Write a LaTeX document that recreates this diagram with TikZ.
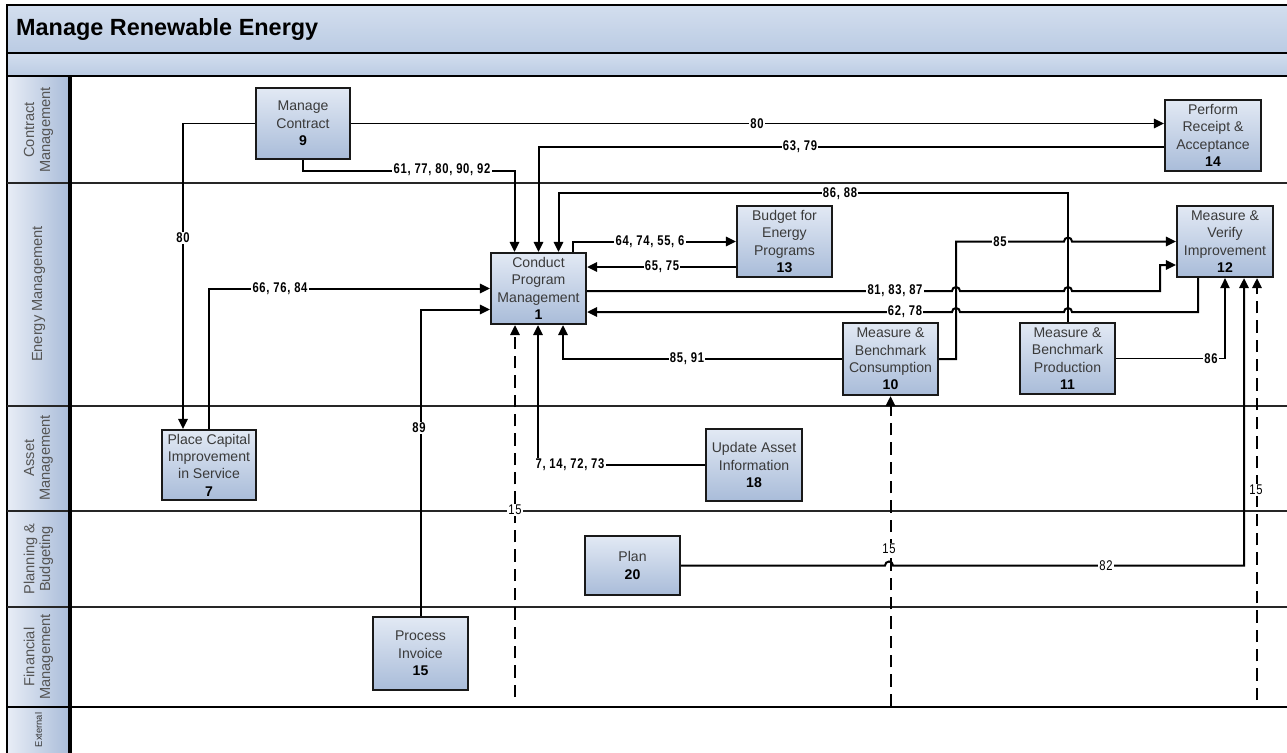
\documentclass[tikz,border=0pt]{standalone}
\usepackage{fontspec}
\setmainfont{Liberation Sans}
\newfontfamily\lblfont[FakeStretch=0.8,LetterSpace=5]{Liberation Sans}
\usetikzlibrary{calc,arrows.meta}
\definecolor{boxtop}{HTML}{E2E9F4}
\definecolor{boxbot}{HTML}{A9BCD9}
\definecolor{hdrL}{HTML}{E8EDF6}
\definecolor{hdrR}{HTML}{A9BCD9}
\definecolor{bandtop}{HTML}{D3DEEE}
\definecolor{bandbot}{HTML}{BACBE3}
\definecolor{txtgray}{HTML}{3A3A3A}
\definecolor{lanegray}{HTML}{555555}
\newcommand\pnum[1]{\textcolor{black}{\textbf{#1}}}
\begin{document}
\begin{tikzpicture}[x=0.03cm,y=-0.03cm,
 pbox/.style={draw=black!90, line width=1.9pt, top color=boxtop, bottom color=boxbot, align=center, inner sep=0pt, font=\fontsize{12}{14.8}\selectfont, text=txtgray},
 sz/.style 2 args={minimum width=#1*0.03cm, minimum height=#2*0.03cm},
 cline/.style={line width=1.7pt, -{Triangle[length=8.5pt,width=8pt]}},
 dline/.style={line width=1.7pt, dash pattern=on 10.5pt off 6pt, -{Triangle[length=8.5pt,width=8pt]}},
 lbl/.style={fill=white, inner sep=1pt, font=\lblfont\bfseries\fontsize{12}{12}\selectfont},
 lblr/.style={fill=white, inner sep=1pt, font=\lblfont\fontsize{12}{12}\selectfont},
 lanetxt/.style={rotate=90, align=center, text=lanegray, font=\fontsize{12.5}{13.5}\selectfont},
 lanehdr/.style={left color=hdrL, right color=hdrR},
 laneline/.style={line width=1.6pt, draw=black!85},
]
\useasboundingbox (0,0) rectangle (1287,752);
\clip (0,0) rectangle (1287,752);
% bands
\shade[top color=bandtop, bottom color=bandbot] (7,5) rectangle (1300,53);
\shade[top color=bandtop, bottom color=bandbot] (7,53) rectangle (1300,76);
% lane headers
\shade[lanehdr] (7,76) rectangle (70,183);
\shade[lanehdr] (7,183) rectangle (70,406);
\shade[lanehdr] (7,406) rectangle (70,511);
\shade[lanehdr] (7,511) rectangle (70,607);
\shade[lanehdr] (7,607) rectangle (70,707);
\shade[lanehdr] (7,707) rectangle (70,770);
% frame lines
\draw[line width=2.4pt] (7,770) -- (7,5) -- (1300,5);
\draw[line width=1.9pt] (7,53) -- (1300,53);
\draw[line width=1.7pt] (7,76) -- (1300,76);
\draw[laneline] (7,183) -- (1300,183);
\draw[laneline] (7,406) -- (1300,406);
\draw[laneline] (7,511) -- (1300,511);
\draw[laneline] (7,607) -- (1300,607);
\draw[line width=2.2pt] (7,707) -- (1300,707);
\draw[line width=2.6pt] (70,76) -- (70,770);
% title and lane labels
\node[anchor=west, font=\bfseries\fontsize{20}{20}\selectfont] (title) at (12,29) {Manage Renewable Energy};
\node[lanetxt] (lc) at (38.5,130) {Contract\\Management};
\node[lanetxt] (le) at (38.5,294) {Energy Management};
\node[lanetxt] (la) at (38.5,458) {Asset\\Management};
\node[lanetxt] (lp) at (38.5,559) {Planning \&\\Budgeting};
\node[lanetxt] (lf) at (38.5,657) {Financial\\Management};
\node[rotate=90, text=black!80, font=\fontsize{8}{8}\selectfont] (lx) at (38.5,730) {External};
% boxes
\node[pbox, sz={94}{71}] (b9) at (303,123.5) {Manage\\Contract\\\pnum{9}};
\node[pbox, sz={96}{71}] (b14) at (1213,135.5) {Perform\\Receipt \&\\Acceptance\\\pnum{14}};
\node[pbox, sz={95}{71}] (b1) at (538.5,288.5) {Conduct\\Program\\Management\\\pnum{1}};
\node[pbox, sz={95}{71}] (b13) at (784.5,241.5) {Budget for\\Energy\\Programs\\\pnum{13}};
\node[pbox, sz={96}{71}] (b12) at (1225,241.5) {Measure \&\\Verify\\Improvement\\\pnum{12}};
\node[pbox, sz={95}{72}] (b10) at (890.5,359) {Measure \&\\Benchmark\\Consumption\\\pnum{10}};
\node[pbox, sz={95}{71}] (b11) at (1067.5,358.5) {Measure \&\\Benchmark\\Production\\\pnum{11}};
\node[pbox, sz={94}{70}] (b7) at (209,465) {Place Capital\\Improvement\\in Service\\\pnum{7}};
\node[pbox, sz={96}{72}] (b18) at (754,465) {Update Asset\\Information\\\pnum{18}};
\node[pbox, sz={95}{59}] (b20) at (632.5,565.5) {Plan\\\pnum{20}};
\node[pbox, sz={95}{73}] (b15) at (420.5,653.5) {Process\\Invoice\\\pnum{15}};
% connectors
\draw[cline] (b9.east) -- (b9.east -| b14.west);
\draw[cline] (b9.west) -| ($(b7.north)+(-26,0)$);
\draw[cline] (b9.south) -- ++(0,11) -| ($(b1.north)+(-24,0)$);
\draw[cline] ($(b14.west)+(0,11.5)$) -| (b1.north);
\draw[cline] (b11.north) -- ++(0,-129) -| ($(b1.north)+(20,0)$);
\draw[cline] ($(b1.north)+(34.5,0)$) |- (b13.west);
\draw[cline] ($(b13.west)+(0,25.5)$) -- ($(b1.east)+(0,-21.5)$);
\draw[cline] ($(b1.east)+(0,2.5)$) -- (952,291) arc[start angle=180,end angle=0,radius=0.12cm] -- (1064,291) arc[start angle=180,end angle=0,radius=0.12cm] -- (1160,291) -- (1160,265) -- ($(b12.west)+(0,23.5)$);
\draw[cline] ($(b12.south)+(-27,0)$) -- (1198,312) -- (1072,312) arc[start angle=0,end angle=180,radius=0.12cm] -- (960,312) arc[start angle=0,end angle=180,radius=0.12cm] -- ($(b1.east)+(0,23.5)$);
\draw[cline] (b10.east) -- (956,359) -- (956,241.5) -- (1064,241.5) arc[start angle=180,end angle=0,radius=0.12cm] -- (b12.west);
\draw[cline] (b10.west) -| ($(b1.south)+(24.5,0)$);
\draw[cline, line width=1pt] (b11.east) -| (b12.south);
\draw[cline] (b18.west) -| ($(b1.south)+(-0.5,0)$);
\draw[cline] (b7.north) |- (b1.west);
\draw[cline] (b15.north) |- ($(b1.west)+(0,21)$);
\draw[cline] (b20.east) -- (885,565.5) arc[start angle=180,end angle=0,radius=0.12cm] -- (1244,565.5) -- ($(b12.south)+(19,0)$);
\coordinate (d1) at (515,697);
\coordinate (d2) at (890.5,706);
\coordinate (d3) at (1257,700);
\draw[dline] (d1) -- ($(b1.south)+(-23.5,0)$);
\draw[dline] (d2) -- (b10.south);
\draw[dline] (d3) -- ($(b12.south)+(32,0)$);
% labels
\node[lbl] (l1) at (757,123.5) {80};
\node[lbl] (l2) at (183,238) {80};
\node[lbl] (l3) at (442,170) {61, 77, 80, 90, 92};
\node[lbl] (l4) at (800,147) {63, 79};
\node[lbl] (l5) at (840,194) {86, 88};
\node[lbl] (l6) at (650,241.5) {64, 74, 55, 6};
\node[lbl] (l7) at (662,267) {65, 75};
\node[lbl] (l8) at (895,291) {81, 83, 87};
\node[lbl] (l9) at (905,312) {62, 78};
\node[lbl] (l10) at (1000,241.5) {85};
\node[lbl] (l11) at (687,359) {85, 91};
\node[lbl] (l12) at (1211,358.5) {86};
\node[lbl] (l13) at (570,465) {7, 14, 72, 73};
\node[lbl] (l14) at (280,288.5) {66, 76, 84};
\node[lbl] (l15) at (419,428) {89};
\node[lblr] (l16) at (1106,565.5) {82};
\node[lblr] (l17) at (515,510) {15};
\node[lblr] (l18) at (889,549) {15};
\node[lblr] (l19) at (1256,490) {15};
\end{tikzpicture}
\end{document}
